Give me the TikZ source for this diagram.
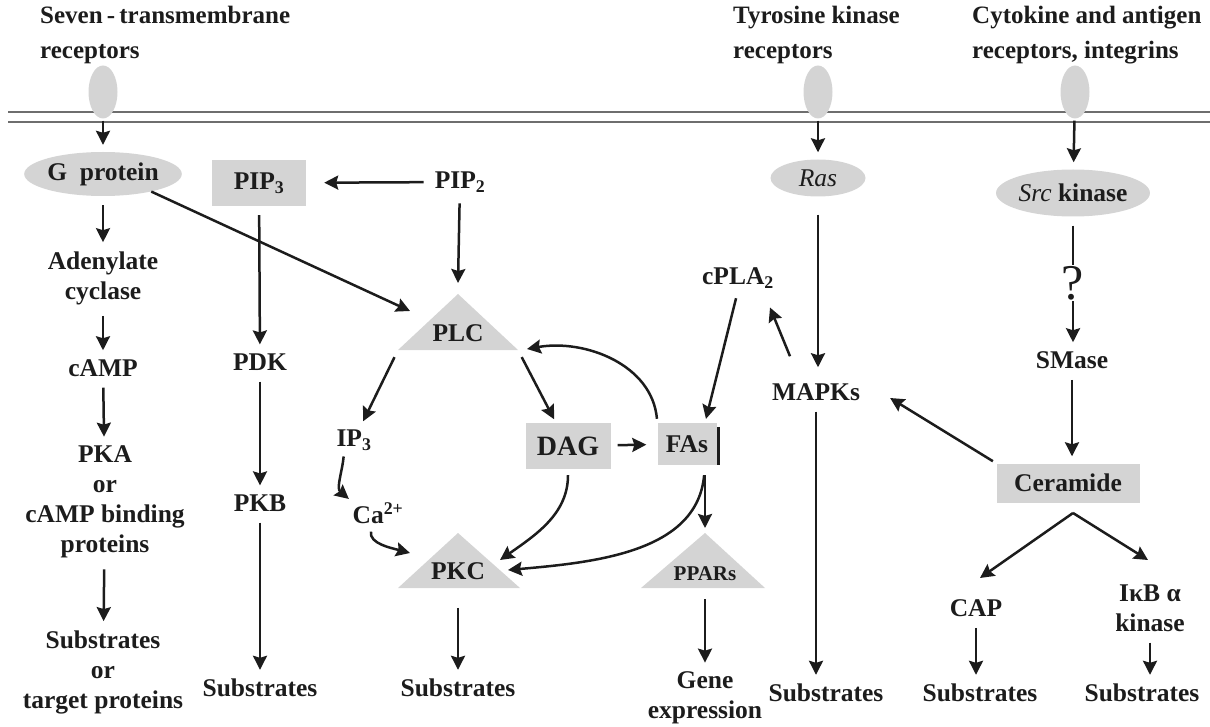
\documentclass[tikz,border=0pt]{standalone}
\usepackage{fontspec}
\setmainfont{Liberation Serif}
\usepackage{tikz}
\usetikzlibrary{shapes.geometric, arrows.meta}

\definecolor{boxgray}{RGB}{212,212,212}
\definecolor{inkgray}{RGB}{28,28,28}
\definecolor{memgray}{RGB}{110,110,110}

\begin{document}
\begin{tikzpicture}[x = 1pt, y = -1pt,
  lbl/.style = {font = \fontsize{25.5}{30}\selectfont\bfseries, text = inkgray, align = center, inner sep = 2pt},
  toplbl/.style = {lbl, font = \fontsize{25}{35}\selectfont\bfseries, align = left, anchor = west},
  gbox/.style = {lbl, fill = boxgray, inner sep = 0pt},
  gell/.style = {lbl, ellipse, fill = boxgray, inner sep = 0pt},
  rcpt/.style = {ellipse, fill = boxgray, minimum width = 29pt, minimum height = 53pt, inner sep = 0pt},
  arr/.style = {-{Stealth[length = 14pt, width = 14pt, inset = 2pt]}, line width = 2.5pt, draw = inkgray,
                shorten <= 9pt, shorten >= 7pt},
  qmark/.style = {font = \fontsize{50}{50}\selectfont, text = inkgray, fill = white, inner sep = 1pt}]
 \useasboundingbox (0, 0) rectangle (1210, 727);

 % membrane and receptors
 \draw[memgray, line width = 2.2pt] (8, 112) -- (1210, 112);
 \draw[memgray, line width = 2.2pt] (8, 122) -- (1210, 122);
 \node[rcpt] (r1) at (103, 92) {};
 \node[rcpt] (r2) at (818, 92) {};
 \node[rcpt] (r3) at (1075, 92) {};
 \node[toplbl] (t1) at (38, 35) {Seven\,-\,transmembrane\\receptors};
 \node[toplbl] (t2) at (731, 35) {Tyrosine kinase\\receptors};
 \node[toplbl] (t3) at (970, 35) {Cytokine and antigen\\receptors, integrins};

 % triangles
 \coordinate (plctop) at (458, 294);
 \coordinate (plcsw) at (398, 350);
 \coordinate (plcse) at (518, 350);
 \fill[boxgray] (plcsw) -- (plctop) -- (plcse) -- cycle;
 \fill[boxgray] (398, 588) -- (458, 533) -- (520, 588) -- cycle;
 \fill[boxgray] (641, 588) -- (705, 533) -- (765, 588) -- cycle;

 % G protein column
 \node[gell, minimum width = 130pt, minimum height = 44pt] (gprot) at (103, 174) {G\enspace protein};
 \node[lbl] (adcy) at (103, 278) {Adenylate\\cyclase};
 \node[lbl] (camp) at (103, 368) {cAMP};
 \node[lbl] (pka) at (105, 502) {PKA\\or\\cAMP binding\\proteins};
 \node[lbl] (subl) at (103, 672) {Substrates\\or\\target proteins};

 % PIP3 column
 \node[gbox, minimum width = 94pt, minimum height = 46pt] (pip3) at (259, 183) {PIP\textsubscript{3}};
 \node[lbl] (pip2) at (460, 182) {PIP\textsubscript{2}};
 \node[lbl] (pdk) at (260, 362) {PDK};
 \node[lbl] (pkb) at (260, 503) {PKB};
 \node[lbl] (subpkb) at (260, 688) {Substrates};

 % PLC part
 \node[lbl] (plc) at (458, 333) {PLC};
 \node[lbl] (ip3) at (354, 440) {IP\textsubscript{3}};
 \node[lbl] (ca) at (378, 513) {Ca\textsuperscript{2+}};
 \node[gbox, font = \fontsize{28}{30}\selectfont\bfseries, minimum width = 85pt, minimum height = 46pt] (dag) at (568, 446) {DAG};
 \node[gbox, minimum width = 59pt, minimum height = 42pt] (fas) at (687, 444) {FAs};
 \draw[inkgray, line width = 2.6pt] ([xshift = 2pt, yshift = -4pt]fas.north east) -- ([xshift = 2pt]fas.south east);
 \node[lbl] (cpla) at (738, 278) {cPLA\textsubscript{2}};
 \node[lbl] (pkc) at (458, 571) {PKC};
 \node[lbl] (subpkc) at (458, 688) {Substrates};
 \node[lbl, font = \fontsize{21}{24}\selectfont\bfseries] (ppar) at (705, 574) {PPARs};
 \node[lbl] (gene) at (705, 698) {Gene\\expression};

 % Ras and Src columns
 \node[gell, minimum width = 95pt, minimum height = 37pt] (ras) at (818, 178) {\mdseries\itshape Ras};
 \node[lbl] (mapk) at (816, 392) {MAPKs};
 \node[lbl] (submapk) at (826, 693) {Substrates};
 \node[gell, minimum width = 150pt, minimum height = 47pt] (src) at (1073, 193) {{\mdseries\itshape Src} kinase};
 \node[lbl] (smase) at (1072, 360) {SMase};
 \node[gbox, minimum width = 143pt, minimum height = 39pt] (cer) at (1068, 483) {Ceramide};
 \node[lbl] (cap) at (976, 608) {CAP};
 \node[lbl] (ikb) at (1150, 608) {IκB α\\kinase};
 \node[lbl] (subcap) at (980, 693) {Substrates};
 \node[lbl] (subikb) at (1142, 693) {Substrates};

 % free arrow ends
 \coordinate (plcin) at (458, 283);
 \coordinate (plcleft) at (410, 311);
 \coordinate (plcright) at (527, 349);
 \coordinate (pkcca) at (410, 553);
 \coordinate (pkcdag) at (500, 560);
 \coordinate (pkcfas) at (508, 570);
 \coordinate (ppartop) at (705, 528);
 \coordinate (cersplit) at (1073, 513);
 \coordinate (capin) at (980, 578);
 \coordinate (ikbin) at (1148, 560);

 % connectors
 \draw[arr, shorten <= 2pt] (r1) -- (gprot);
 \draw[arr, shorten <= 2pt] (r2) -- (ras);
 \draw[arr, shorten <= 2pt] (r3) -- (src);
 \draw[arr] (gprot) -- (adcy);
 \draw[arr] (adcy) -- (camp);
 \draw[arr] (camp) -- (pka);
 \draw[arr] (pka) -- (subl);
 \draw[arr, shorten <= 0pt, shorten >= 0pt] (gprot.-20) -- (plcleft);
 \draw[arr, shorten >= 18pt] (pip2) -- (pip3);
 \draw[arr, shorten >= 0pt] (pip2) -- (plcin);
 \draw[arr] (pip3) -- (pdk);
 \draw[arr] (pdk) -- (pkb);
 \draw[arr] (pkb) -- (subpkb);
 \draw[arr, shorten <= 8pt] (plcsw) -- (ip3);
 \draw[arr, shorten <= 8pt, shorten >= 4pt] (plcse) -- (dag);
 \draw[arr, shorten <= 4pt, shorten >= 0pt] (fas.north west) to[out = 95, in = 10] (plcright);
 \draw[arr, shorten <= 7pt, shorten >= 11pt] (dag) -- (fas);
 \draw[arr, shorten <= 8pt, shorten >= 4pt] (cpla.south) -- ([xshift = 18pt]fas.north);
 \draw[arr, shorten <= 0pt, shorten >= 0pt] ([xshift = -26pt, yshift = 25pt]mapk.north) -- ([xshift = 32pt, yshift = -17pt]cpla.south);
 \draw[arr, shorten <= 4pt, shorten >= 2pt] ([xshift = -10pt]ip3.south) to[out = -95, in = 140] (ca.north west);
 \draw[arr, shorten <= 6pt, shorten >= 0pt] ([xshift = -6pt]ca.south) to[out = -100, in = 165] (pkcca);
 \draw[arr, shorten <= 6pt, shorten >= 0pt] (dag.south) to[out = -90, in = 35] (pkcdag);
 \draw[arr, shorten <= 10pt, shorten >= 0pt] ([xshift = 18pt]fas.south) to[out = -95, in = 5] (pkcfas);
 \draw[arr, shorten <= 10pt, shorten >= 0pt] ([xshift = 18pt]fas.south) -- (ppartop);
 \draw[arr, shorten <= 26pt] (pkc) -- (subpkc);
 \draw[arr, shorten <= 16pt] (ppar) -- (gene);
 \draw[arr, shorten <= 18pt, shorten >= 14pt] (ras) -- (ras |- mapk.north);
 \draw[arr] (mapk) -- (mapk |- submapk.north);
 \draw[arr, shorten >= 7pt] (src) -- node[qmark] {?} (src |- smase.north);
 \draw[arr] (smase) -- (smase |- cer.north);
 \draw[arr, shorten <= 4pt, shorten >= 0pt] (cer.north west) -- ([xshift = 28pt, yshift = -6pt]mapk.east);
 \draw[arr, shorten <= 0pt, shorten >= 0pt] (cersplit) -- (capin);
 \draw[arr, shorten <= 0pt, shorten >= 0pt] (cersplit) -- (ikbin);
 \draw[arr] (cap) -- (cap |- subcap.north);
 \draw[arr] (ikb) -- (ikb |- subikb.north);
\end{tikzpicture}
\end{document}
